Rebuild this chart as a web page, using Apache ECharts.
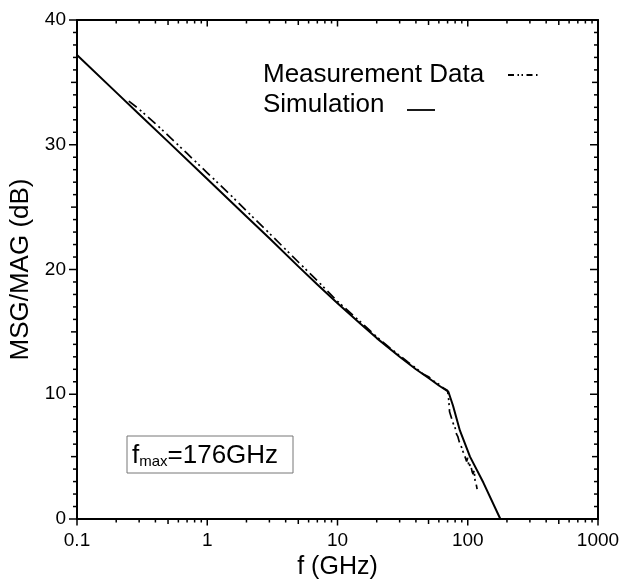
<!DOCTYPE html>
<html><head><meta charset="utf-8">
<script src="https://cdn.jsdelivr.net/npm/echarts@6/dist/echarts.min.js"></script>
<style>html,body{margin:0;padding:0;background:#fff}#c{width:623px;height:580px}</style>
</head><body><div id="c"></div>
<script>
// ---- data ----
const simFreq = [0.1, 0.2, 0.3, 0.5, 1, 2, 3, 5, 7, 10, 15, 20, 30, 40, 50, 60, 71, 77, 87, 104, 132, 178];
const simGain = [37.2, 34.2, 32.45, 30.25, 27.25, 24.25, 22.5, 20.25, 18.8, 17.3, 15.65, 14.5, 13.0, 12.0, 11.3, 10.7, 10.2, 9.1, 7.1, 5.0, 2.9, 0];
const measFreq = [0.25, 0.3, 0.4, 0.5, 0.7, 1, 1.5, 2, 3, 5, 7, 10, 15, 20, 25, 30, 35, 40, 45, 50, 55, 60, 65, 70,
  71.5, 72.5, 74, 77, 80, 82, 84, 86, 88, 90, 92, 94, 96, 98, 100, 102, 105, 108, 110, 112, 114, 116, 118];
const measGain = [33.5, 32.85, 31.7, 30.75, 29.3, 27.75, 26.0, 24.7, 22.9, 20.6, 19.1, 17.45, 15.8, 14.6, 13.75, 13.1, 12.55, 12.1, 11.65, 11.4, 11.05, 10.8, 10.5, 10.3,
  9.5, 8.6, 8.3, 7.7, 7.3, 6.8, 6.6, 6.2, 6.1, 5.7, 5.4, 5.5, 4.9, 4.6, 4.9, 4.2, 4.4, 3.8, 3.6, 3.9, 3.0, 2.8, 2.4];
const xTickLabels = ['0.1', '1', '10', '100', '1000'];
const yTickLabels = ['0', '10', '20', '30', '40'];
const xMajorTicks = [0.1, 1, 10, 100, 1000];
const xMidTicks = [0.5, 5, 50, 500];
const xMinorTicks = [0.2, 0.3, 0.4, 0.6, 0.7, 0.8, 0.9, 2, 3, 4, 6, 7, 8, 9,
  20, 30, 40, 60, 70, 80, 90, 200, 300, 400, 600, 700, 800, 900];
const yMajorTicks = [0, 10, 20, 30, 40];
const yMidTicks = [5, 15, 25, 35];
const yMinorTicks = [1, 2, 3, 4, 6, 7, 8, 9, 11, 12, 13, 14, 16, 17, 18, 19,
  21, 22, 23, 24, 26, 27, 28, 29, 31, 32, 33, 34, 36, 37, 38, 39];

const font = "'Liberation Sans', Arial, Helvetica, sans-serif";
const black = '#000';
const X_MIN = 0.1, X_MAX = 1000, Y_MIN = 0, Y_MAX = 40;

function tickRenderer(params, api) {
  const children = [];
  const seg = (x1, y1, x2, y2) => children.push({
    type: 'line', shape: { x1, y1, x2, y2 },
    style: { stroke: black, lineWidth: 1.5 }, silent: true
  });
  const addX = (vals, len) => vals.forEach(v => {
    const b = api.coord([v, Y_MIN]);
    const t = api.coord([v, Y_MAX]);
    seg(b[0], b[1], b[0], b[1] + len);      // bottom, outward
    seg(t[0], t[1], t[0], t[1] + len);      // top, inward
  });
  const addY = (vals, len) => vals.forEach(v => {
    const l = api.coord([X_MIN, v]);
    const r = api.coord([X_MAX, v]);
    seg(l[0], l[1], l[0] - len, l[1]);      // left, outward
    seg(r[0], r[1], r[0] - len, r[1]);      // right, inward
  });
  addX(xMajorTicks, 6.5);
  addX(xMidTicks, 5);
  addX(xMinorTicks, 3.5);
  addY(yMajorTicks, 8);
  addY(yMidTicks, 6);
  addY(yMinorTicks, 4);
  return { type: 'group', children };
}

const axisLineStyle = { color: black, width: 2 };
const chart = echarts.init(document.getElementById('c'), null, { renderer: 'canvas' });
chart.setOption({
  animation: false,
  backgroundColor: '#fff',
  textStyle: { fontFamily: font, color: black },
  grid: { left: 77, right: 25, top: 20, bottom: 61, outerBoundsMode: 'none' },
  xAxis: [
    {
      type: 'log', logBase: 10, min: X_MIN, max: X_MAX, position: 'bottom',
      axisLine: { show: true, onZero: false, lineStyle: axisLineStyle },
      axisTick: { show: false }, minorTick: { show: false }, splitLine: { show: false },
      axisLabel: {
        fontSize: 19, color: black, fontFamily: font, margin: 12,
        formatter: v => xTickLabels[Math.round(Math.log10(v)) + 1]
      },
      name: 'f (GHz)', nameLocation: 'middle', nameGap: 35,
      nameTextStyle: { fontSize: 25, color: black, fontFamily: font }
    },
    {
      type: 'log', logBase: 10, min: X_MIN, max: X_MAX, position: 'top',
      axisLine: { show: true, onZero: false, lineStyle: axisLineStyle },
      axisTick: { show: false }, axisLabel: { show: false }, splitLine: { show: false }, minorTick: { show: false }
    }
  ],
  yAxis: [
    {
      type: 'value', min: Y_MIN, max: Y_MAX, interval: 10, position: 'left',
      axisLine: { show: true, onZero: false, lineStyle: axisLineStyle },
      axisTick: { show: false }, minorTick: { show: false }, splitLine: { show: false },
      axisLabel: {
        fontSize: 19, color: black, fontFamily: font, margin: 11,
        formatter: v => yTickLabels[Math.round(v / 10)]
      },
      name: 'MSG/MAG (dB)', nameLocation: 'middle', nameGap: 40,
      nameTextStyle: { fontSize: 26, color: black, fontFamily: font }
    },
    {
      type: 'value', min: Y_MIN, max: Y_MAX, interval: 10, position: 'right',
      axisLine: { show: true, onZero: false, lineStyle: axisLineStyle },
      axisTick: { show: false }, axisLabel: { show: false }, splitLine: { show: false }, minorTick: { show: false }
    }
  ],
  series: [
    {
      name: 'Simulation', type: 'line', xAxisIndex: 0, yAxisIndex: 0,
      data: simFreq.map((f, i) => [f, simGain[i]]),
      showSymbol: false, symbol: 'none',
      lineStyle: { color: black, width: 2 }
    },
    {
      name: 'Measurement Data', type: 'line', xAxisIndex: 0, yAxisIndex: 0,
      data: measFreq.map((f, i) => [f, measGain[i]]),
      showSymbol: false, symbol: 'none',
      lineStyle: { color: black, width: 1.7, type: [10, 4, 2, 3, 2, 4] }
    },
    {
      name: 'ticks', type: 'custom', xAxisIndex: 0, yAxisIndex: 0,
      silent: true, clip: false, z: 5,
      data: [[X_MIN, Y_MIN]],
      renderItem: tickRenderer
    }
  ],
  graphic: [
    { type: 'text', style: { text: 'Measurement Data', x: 263, y: 75, verticalAlign: 'middle', font: '26px ' + font, fill: black } },
    { type: 'line', shape: { x1: 508, y1: 75, x2: 538, y2: 75 }, style: { stroke: black, lineWidth: 2, lineDash: [6, 3.5, 1.5, 2.5, 1.5, 3.5] } },
    { type: 'text', style: { text: 'Simulation', x: 263, y: 105, verticalAlign: 'middle', font: '26px ' + font, fill: black } },
    { type: 'line', shape: { x1: 407, y1: 110, x2: 435, y2: 110 }, style: { stroke: black, lineWidth: 1.8 } },
    { type: 'rect', shape: { x: 127, y: 436, width: 166, height: 37 }, style: { fill: 'none', stroke: '#777', lineWidth: 1 } },
    {
      type: 'text',
      style: {
        x: 132, y: 469, verticalAlign: 'bottom',
        text: '{a|f}{b|max}{a|=176GHz}',
        rich: {
          a: { fontSize: 26, fontFamily: font, fill: black, lineHeight: 26, verticalAlign: 'bottom' },
          b: { fontSize: 15, fontFamily: font, fill: black, lineHeight: 15, verticalAlign: 'bottom' }
        }
      }
    }
  ]
});
</script></body></html>
